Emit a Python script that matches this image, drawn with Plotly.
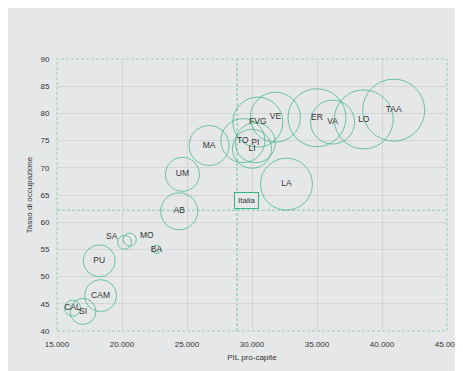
import plotly.graph_objects as go

regioni = ['TAA', 'LO', 'VA', 'ER', 'VE', 'FVG', 'TO', 'PI', 'LI', 'LA',
           'MA', 'UM', 'AB', 'SA', 'MO', 'BA', 'PU', 'CAM', 'CAL', 'SI']
pil = [40900, 38600, 36200, 35000, 31800, 30450, 29300, 30250, 30000, 32650,
       26700, 24650, 24400, 20200, 20600, 22650, 18250, 18350, 16200, 17000]
occupazione = [80.6, 78.9, 78.4, 79.2, 79.3, 78.4, 75.0, 74.6, 73.5, 67.0,
               74.1, 68.8, 62.0, 56.3, 56.8, 55.0, 52.9, 46.5, 44.2, 43.6]
dimensione = [62, 59, 44, 58, 50, 50, 44, 40, 39, 52,
              40, 34, 37, 14, 13, 8.5, 32, 32, 16, 26]

italia_pil = 28850
italia_occ = 62.2

verde = 'rgb(52,180,130)'
grigio = '#e6e7e8'
testo = '#333333'

# SA e MO hanno l'etichetta spostata a lato
laterali = {'SA': dict(xanchor='right', xshift=-5, yshift=6),
            'MO': dict(xanchor='left', xshift=8, yshift=5)}
etichette = [r if r not in laterali else '' for r in regioni]

fig = go.Figure()
fig.add_trace(go.Scatter(
    x=pil, y=occupazione, text=etichette, mode='markers+text',
    textposition='middle center',
    textfont=dict(size=8.5, color=testo),
    marker=dict(size=dimensione, sizemode='diameter', sizeref=1,
                color='rgba(0,0,0,0)', line=dict(color=verde, width=1)),
    hovertext=regioni, hoverinfo='text', showlegend=False, cliponaxis=False))

for r, opz in laterali.items():
    i = regioni.index(r)
    fig.add_annotation(x=pil[i], y=occupazione[i], text=r, showarrow=False,
                       font=dict(size=8.5, color=testo), **opz)

linea = dict(color='rgba(52,180,130,0.55)', width=1.2, dash='3px,2px')
fig.add_shape(type='line', xref='x', yref='paper', x0=italia_pil, x1=italia_pil,
              y0=0, y1=1, line=linea, layer='below')
fig.add_shape(type='line', xref='paper', yref='y', x0=0, x1=1,
              y0=italia_occ, y1=italia_occ, line=linea, layer='below')
# cornice tratteggiata
fig.add_shape(type='rect', xref='paper', yref='paper', x0=0, x1=1, y0=0, y1=1,
              line=dict(color='rgba(52,180,130,0.45)', width=1, dash='3px,2px'),
              layer='below')

fig.add_annotation(x=italia_pil, y=italia_occ, text='Italia', showarrow=False,
                   xanchor='left', yanchor='bottom', xshift=-3, yshift=1,
                   font=dict(size=8, color=testo),
                   bordercolor=verde, borderwidth=1, borderpad=3, bgcolor=grigio)

fig.update_layout(
    width=463, height=371,
    margin=dict(l=49, r=24, t=51, b=48, autoexpand=False),
    paper_bgcolor=grigio, plot_bgcolor=grigio,
    font=dict(family='Liberation Sans, Arial, sans-serif', size=8, color=testo),
    separators=',.',
    xaxis=dict(range=[15000, 45000], dtick=5000, tickformat=',d', automargin=False,
               showgrid=True, gridcolor='#d3d4d6', gridwidth=1, zeroline=False,
               title=dict(text='PIL pro-capite', font=dict(size=8), standoff=6),
               ticks='outside', ticklen=5, tickcolor=grigio, showline=False),
    yaxis=dict(range=[40, 90], dtick=5, automargin=False,
               showgrid=True, gridcolor='#d3d4d6', gridwidth=1, zeroline=False,
               title=dict(text='Tasso di occupazione', font=dict(size=8), standoff=6),
               ticks='outside', ticklen=5, tickcolor=grigio, showline=False),
)

fig.write_html('out.html')
